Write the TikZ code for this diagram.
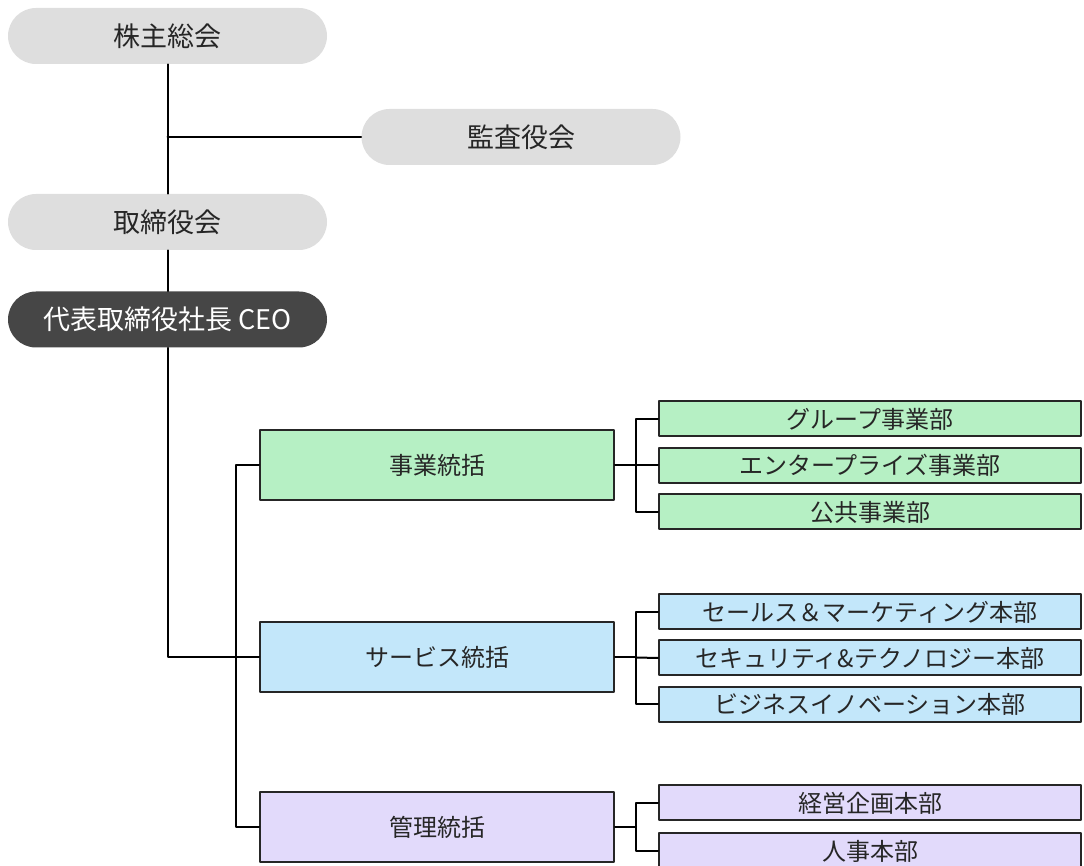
\documentclass[tikz,border=0pt]{standalone}
\usepackage{fontspec}
\setmainfont{Noto Sans CJK JP}
\definecolor{boardgray}{RGB}{222,222,222}
\definecolor{ceogray}{RGB}{70,70,70}
\definecolor{bizgreen}{RGB}{182,240,196}
\definecolor{svcblue}{RGB}{195,231,250}
\definecolor{admpurple}{RGB}{226,218,251}
\begin{document}
\begin{tikzpicture}[x=0.5pt,y=-0.5pt,line join=round,line cap=round]
        \tikzset{pill/.style={fill=boardgray,rounded corners=14pt,minimum width=159.5pt,minimum height=28pt,font=\fontsize{13.5}{16}\selectfont,text=black!85},
            group/.style={draw=black!85,line width=1pt,minimum width=177pt,minimum height=35pt,font=\fontsize{12}{14}\selectfont,text=black!85},
            unit/.style={draw=black!85,line width=1pt,minimum width=211pt,minimum height=17.5pt,inner sep=0pt,font=\fontsize{12}{14}\selectfont,text=black!85},
            link/.style={line width=1pt}}
        \useasboundingbox (0,0) rectangle (1084,866);
        \node[pill] (meeting) at (167.5,36) {株主総会};
        \node[pill] (audit) at (521,137) {監査役会};
        \node[pill] (board) at (167.5,222) {取締役会};
        \node[pill,fill=ceogray,text=white] (ceo) at (167.5,319.5) {代表取締役社長 CEO};
        \node[group,fill=bizgreen] (biz) at (437,465.5) {事業統括};
        \node[group,fill=svcblue] (svc) at (437,657.5) {サービス統括};
        \node[group,fill=admpurple] (adm) at (437,827) {管理統括};
        \foreach \n/\y/\t in {b1/419/グループ事業部,b2/465.5/エンタープライズ事業部,b3/512/公共事業部}
        \node[unit,fill=bizgreen] (\n) at (870,\y) {\t};
        \foreach \n/\y/\t in {s1/612/セールス＆マーケティング本部,s2/658/セキュリティ\&テクノロジー本部,s3/704.5/ビジネスイノベーション本部}
        \node[unit,fill=svcblue] (\n) at (870,\y) {\t};
        \foreach \n/\y/\t in {a1/803/経営企画本部,a2/851/人事本部}
        \node[unit,fill=admpurple] (\n) at (870,\y) {\t};
        \draw[link] (meeting) -- (board);
        \draw[link] (audit.west) -- (audit.west -| meeting.south);
        \draw[link] (board) -- (ceo);
        \draw[link] (ceo.south) |- (svc.west);
        \draw[link] (biz.west) -- ++(-23,0) |- (adm.west);
        \draw[link] (biz.east) -- ++(21,0) coordinate (jb);
        \draw[link] (b1.west) -| (jb) |- (b3.west);
        \draw[link] (jb) -- (b2.west);
        \draw[link] (svc.east) -- ++(21,0) coordinate (js);
        \draw[link] (s1.west) -| (js) |- (s3.west);
        \draw[link] (js) -- (s2.west);
        \draw[link] (adm.east) -- ++(21,0) coordinate (ja);
        \draw[link] (a1.west) -| (ja) |- (a2.west);
    \end{tikzpicture}
\end{document}
